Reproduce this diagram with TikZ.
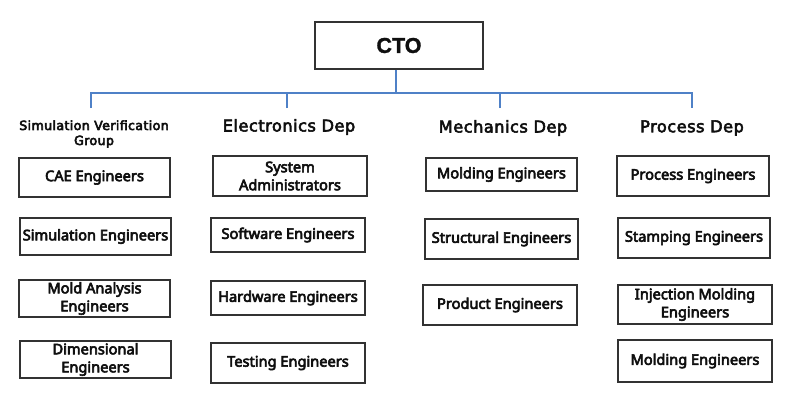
\documentclass[tikz,border=0pt]{standalone}
\usepackage{fontspec}
\setmainfont{Noto Sans}
\newfontfamily\headfont[LetterSpace=3]{DejaVu Sans}
\newfontfamily\boxfont{Noto Sans}
\newfontfamily\ctofont{Liberation Sans}
\newcommand\thicktext[1]{\special{pdf:literal direct 2 Tr #1 w}}
\newcommand\plaintext{\special{pdf:literal direct 0 Tr}}
\begin{document}
\begin{tikzpicture}[x=1pt,y=-1pt,
  conn/.style={draw={rgb,255:red,79;green,129;blue,199},line width=1.5pt},
  rolebox/.style={draw={rgb,255:red,50;green,50;blue,50},line width=1.4pt,inner sep=0pt,
    align=center,font=\boxfont\fontsize{14.6}{18}\selectfont,text={rgb,255:red,15;green,15;blue,15},
    execute at begin node=\thicktext{0.6},execute at end node=\plaintext},
  headlbl/.style={align=center,font=\headfont\fontsize{16.2}{20}\selectfont,text={rgb,255:red,15;green,15;blue,15},
    execute at begin node=\thicktext{0.55},execute at end node=\plaintext},
]
\useasboundingbox (0,0) rectangle (788,400);
\fill[white] (0,0) rectangle (788,400);

\node[rolebox,minimum width=168pt,minimum height=47pt,font=\ctofont\fontsize{21.5}{24}\selectfont\bfseries,
  execute at begin node=\thicktext{0.3}] (cto) at (399,45.5) {CTO};

\node[headlbl,font=\headfont\fontsize{12.6}{15}\selectfont] (h1) at (94,134) {Simulation Verification\\Group};
\node[headlbl] (h2) at (289,127) {Electronics Dep};
\node[headlbl] (h3) at (503,128) {Mechanics Dep};
\node[headlbl] (h4) at (692,128) {Process Dep};

\coordinate (bus) at (396,93);
\coordinate (d1) at (91,108);
\coordinate (d2) at (287,108);
\coordinate (d3) at (500,108);
\coordinate (d4) at (692,108);
\draw[conn] (cto.south -| bus) -- (bus);
\draw[conn] (d1) -- (d1 |- bus) -- (d4 |- bus) -- (d4);
\draw[conn] (d2) -- (d2 |- bus);
\draw[conn] (d3) -- (d3 |- bus);

% column 1
\node[rolebox,minimum width=151pt,minimum height=39pt] (c1a) at (94.5,177.5) {CAE Engineers};
\node[rolebox,minimum width=151pt,minimum height=37pt] (c1b) at (95.5,236.5) {Simulation Engineers};
\node[rolebox,minimum width=151pt,minimum height=37pt] (c1c) at (94.5,298.5) {Mold Analysis\\Engineers};
\node[rolebox,minimum width=151pt,minimum height=37pt] (c1d) at (95.5,359.5) {Dimensional\\Engineers};
% column 2
\node[rolebox,minimum width=154pt,minimum height=40pt] (c2a) at (290,176) {System\\Administrators};
\node[rolebox,minimum width=154pt,minimum height=34pt] (c2b) at (288,235) {Software Engineers};
\node[rolebox,minimum width=154pt,minimum height=34pt] (c2c) at (288,298) {Hardware Engineers};
\node[rolebox,minimum width=154pt,minimum height=40pt] (c2d) at (288,363) {Testing Engineers};
% column 3
\node[rolebox,minimum width=151pt,minimum height=33pt] (c3a) at (501.5,174.5) {Molding Engineers};
\node[rolebox,minimum width=153pt,minimum height=40pt] (c3b) at (501.5,239) {Structural Engineers};
\node[rolebox,minimum width=154pt,minimum height=40pt] (c3c) at (500,305) {Product Engineers};
% column 4
\node[rolebox,minimum width=152pt,minimum height=40pt] (c4a) at (693,176) {Process Engineers};
\node[rolebox,minimum width=152pt,minimum height=40pt] (c4b) at (694,238) {Stamping Engineers};
\node[rolebox,minimum width=154pt,minimum height=39pt] (c4c) at (695,304.5) {Injection Molding\\Engineers};
\node[rolebox,minimum width=154pt,minimum height=42pt] (c4d) at (695,361) {Molding Engineers};
\end{tikzpicture}
\end{document}
